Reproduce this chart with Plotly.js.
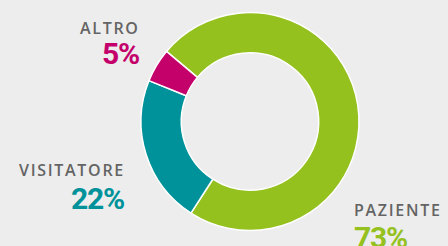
<!DOCTYPE html>
<html><head><meta charset="utf-8">
<script src="https://cdn.plot.ly/plotly-3.0.1.min.js"></script>
<style>
html,body{margin:0;padding:0;background:#ededed;}
#chart{width:448px;height:246px;}
text.annotation-text[style*="Open Sans"]{letter-spacing:1.7px;}
text.annotation-text[style*="Roboto"]{letter-spacing:-1.2px;}
</style>
</head><body><div id="chart"></div>
<script>
const categories = ["PAZIENTE", "VISITATORE", "ALTRO"];
const values = [73, 22, 5];
const percentLabels = ["73%", "22%", "5%"];
const colors = ["#95c11f", "#00929a", "#c4006b"];

const W = 448, H = 246;
const px = x => x / W;
const py = y => 1 - y / H;

const labelPos = [
  {x: 352, y: 210, xanchor: "left"},
  {x: 127, y: 170, xanchor: "right"},
  {x: 142, y: 28, xanchor: "right"}
];
const pctPos = [
  {x: 352, y: 237, xanchor: "left"},
  {x: 126, y: 198, xanchor: "right"},
  {x: 141, y: 54, xanchor: "right"}
];

const labelFont = "Open Sans, sans-serif";
const pctFont = "Roboto, sans-serif";

const annotations = [];
categories.forEach((c, i) => {
  annotations.push({xref: "paper", yref: "paper", x: px(labelPos[i].x), y: py(labelPos[i].y),
    xanchor: labelPos[i].xanchor, yanchor: "middle", showarrow: false, text: c,
    font: {family: labelFont, size: 16, weight: 600, color: "#646464"}});
  annotations.push({xref: "paper", yref: "paper", x: px(pctPos[i].x), y: py(pctPos[i].y),
    xanchor: pctPos[i].xanchor, yanchor: "middle", showarrow: false, text: percentLabels[i],
    font: {family: pctFont, size: 30, weight: 700, color: colors[i]}});
});

const data = [{
  type: "pie",
  labels: categories,
  values: values,
  sort: false,
  direction: "clockwise",
  rotation: -50,
  hole: 0.63,
  textinfo: "none",
  hoverinfo: "none",
  marker: {colors: colors, line: {color: "#ffffff", width: 1.5}},
  domain: {x: [141 / W, 359 / W], y: [1 - 230.5 / H, 1 - 12.5 / H]},
  showlegend: false
}];

const layout = {
  width: W, height: H,
  margin: {l: 0, r: 0, t: 0, b: 0},
  paper_bgcolor: "#ededed",
  plot_bgcolor: "#ededed",
  showlegend: false,
  annotations: annotations
};

Plotly.newPlot("chart", data, layout, {staticPlot: true, displayModeBar: false});
</script></body></html>
